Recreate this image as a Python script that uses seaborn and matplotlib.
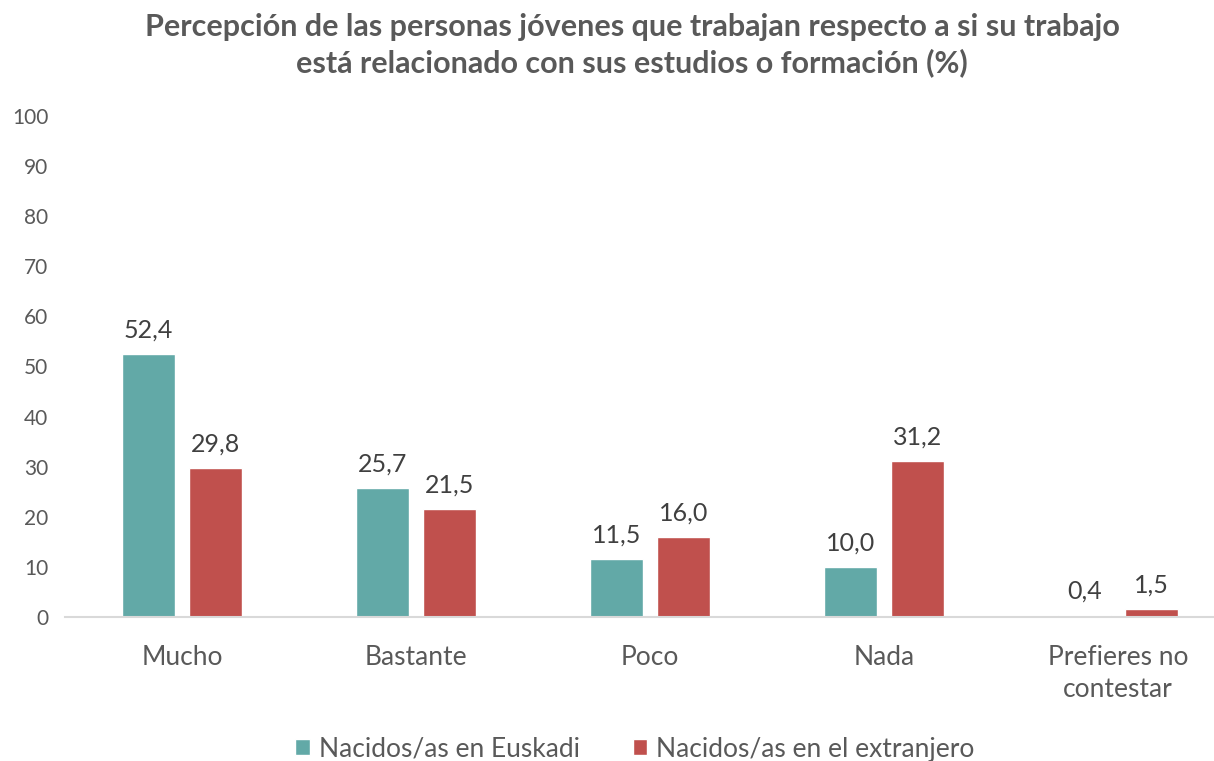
import matplotlib
matplotlib.use("Agg")
import matplotlib.pyplot as plt
import seaborn as sns
import pandas as pd

categories = ["Mucho", "Bastante", "Poco", "Nada", "Prefieres no\ncontestar"]
series_names = ["Nacidos/as en Euskadi", "Nacidos/as en el extranjero"]
euskadi = [52.4, 25.7, 11.5, 10.0, 0.4]
extranjero = [29.8, 21.5, 16.0, 31.2, 1.5]
yticks = [0, 10, 20, 30, 40, 50, 60, 70, 80, 90, 100]
title = "Percepción de las personas jóvenes que trabajan respecto a si su trabajo\nestá relacionado con sus estudios o formación (%)"

colors = ["#62A9A7", "#C0504D"]
grey = "#595959"

sns.set_theme(style="white")
plt.rcParams['font.family'] = ['Lato', 'DejaVu Sans']

df = pd.DataFrame({
    "cat": categories * 2,
    "serie": [series_names[0]] * len(categories) + [series_names[1]] * len(categories),
    "val": euskadi + extranjero,
})

fig = plt.figure(figsize=(12.14, 7.61), dpi=100)
ax = fig.add_axes([65 / 1214, 1 - 617 / 761, 1170 / 1214, (617 - 116) / 761])

sns.barplot(data=df, x="cat", y="val", hue="serie", palette=colors,
            width=0.576, gap=0.215, ax=ax, legend=True, saturation=1)

for cont in ax.containers:
    labels = [f"{v:.1f}".replace(".", ",") for v in cont.datavalues]
    ax.bar_label(cont, labels=labels, padding=9, fontsize=18, color="#404040")

ax.set_xlim(-0.5, 4.5)
ax.set_ylim(0, 100)
ax.set_yticks(yticks)
ax.set_yticklabels([str(t) for t in yticks])
ax.set_xlabel("")
ax.set_ylabel("")
for s in ["top", "right", "left"]:
    ax.spines[s].set_visible(False)
ax.spines["bottom"].set_color("#D9D9D9")
ax.spines["bottom"].set_linewidth(1.5)
ax.tick_params(axis="y", length=0, labelsize=15, labelcolor=grey, pad=12)
ax.tick_params(axis="x", length=0, labelsize=19, labelcolor=grey, pad=20)
for lbl in ax.get_xticklabels():
    lbl.set_linespacing(1.35)

fig.text(632 / 1214, 1 - 45 / 761, title, ha="center", va="center",
         fontsize=22, fontweight="bold", color=grey, linespacing=1.3)

handles, labs = ax.get_legend_handles_labels()
ax.legend_.remove()
fig.legend(handles, labs, loc="center", bbox_to_anchor=(635 / 1214, 1 - 749 / 761),
           ncol=2, frameon=False, fontsize=19, labelcolor=grey,
           handlelength=0.55, handleheight=0.55, handletextpad=0.35, columnspacing=2.0)

fig.savefig("out.png", dpi=100)
